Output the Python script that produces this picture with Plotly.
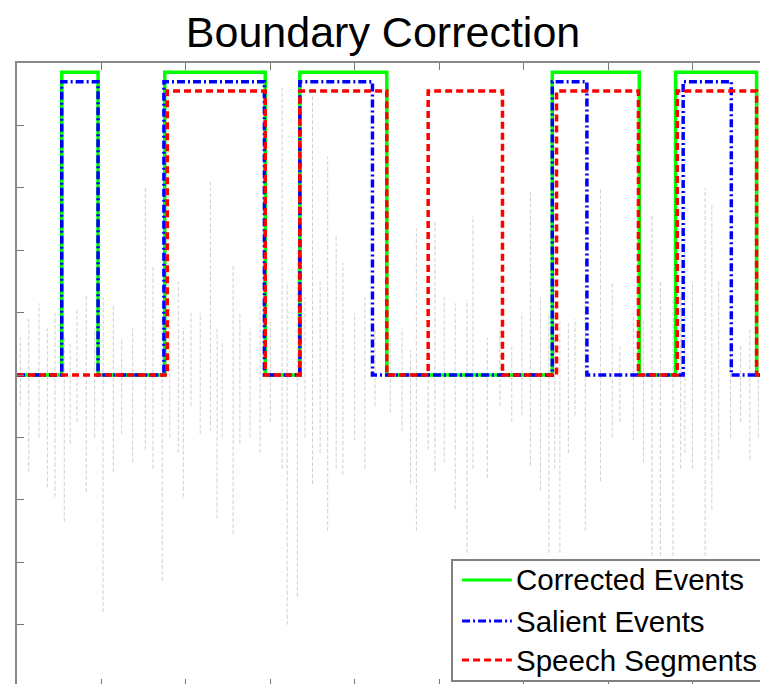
import plotly.graph_objects as go

# ---- speech waveform envelope: time (s), positive peak, negative peak ----
wave_t = [0.04, 0.14, 0.26, 0.36, 0.45, 0.56, 0.63, 0.71, 0.82, 0.92, 1.02, 1.14, 1.24, 1.37,
          1.52, 1.61, 1.72, 1.81, 1.91, 1.97, 2.06, 2.17, 2.29, 2.37, 2.43, 2.56, 2.64, 2.76,
          2.88, 3.00, 3.14, 3.20, 3.32, 3.41, 3.50, 3.59, 3.68, 3.78, 3.86, 4.00, 4.12, 4.24,
          4.42, 4.56, 4.66, 4.73, 4.87, 4.95, 5.06, 5.19, 5.33, 5.40, 5.57, 5.72, 5.86, 5.98,
          6.08, 6.20, 6.30, 6.37, 6.43, 6.53, 6.61, 6.73, 6.91, 7.05, 7.14, 7.30, 7.42, 7.52,
          7.62, 7.77, 7.86, 7.91, 8.00, 8.15, 8.23, 8.31, 8.45, 8.57, 8.68, 8.78]
wave_up = [0.12, 0.18, 0.23, 0.15, 0.20, 0.12, 0.10, 0.21, 0.26, 0.15, 0.25, 0.23, 0.12, 0.15,
           0.60, 0.35, 0.18, 0.22, 0.30, 0.15, 0.20, 0.20, 0.62, 0.15, 0.11, 0.35, 0.20, 0.15,
           0.22, 0.18, 0.92, 0.30, 0.40, 0.25, 0.90, 0.30, 0.70, 0.45, 0.36, 0.20, 0.25, 0.15,
           0.12, 0.15, 0.08, 0.47, 0.20, 0.49, 0.25, 0.23, 0.24, 0.51, 0.12, 0.15, 0.09, 0.20,
           0.59, 0.25, 0.20, 0.12, 0.18, 0.17, 0.18, 0.25, 0.60, 0.30, 0.09, 0.20, 0.18, 0.51,
           0.30, 0.25, 0.26, 0.45, 0.30, 0.60, 0.55, 0.30, 0.10, 0.10, 0.15, 0.10]
wave_down = [-0.10, -0.31, -0.20, -0.36, -0.39, -0.47, -0.22, -0.15, -0.375, -0.20, -0.76, -0.31,
             -0.19, -0.28, -0.24, -0.30, -0.66, -0.20, -0.25, -0.39, -0.10, -0.19, -0.18, -0.46,
             -0.20, -0.51, -0.22, -0.20, -0.25, -0.15, -0.30, -0.80, -0.71, -0.20, -0.35, -0.25,
             -0.50, -0.30, -0.32, -0.21, -0.30, -0.10, -0.12, -0.18, -0.35, -0.50, -0.24, -0.31,
             -0.28, -0.43, -0.57, -0.30, -0.33, -0.10, -0.15, -0.13, -0.29, -0.37, -0.57, -0.30,
             -0.57, -0.25, -0.13, -0.50, -0.34, -0.20, -0.15, -0.21, -0.28, -0.58, -0.58, -0.58,
             -0.30, -0.25, -0.30, -0.58, -0.43, -0.27, -0.20, -0.15, -0.27, -0.20]

# ---- event intervals (start, end) in seconds ----
corrected_on = [0.53, 1.75, 3.35, 6.34, 7.80]
corrected_off = [0.96, 2.94, 4.38, 7.37, 8.76]
salient_on = [0.53, 1.74, 3.35, 6.34, 7.89]
salient_off = [0.96, 2.93, 4.21, 6.75, 8.46]
speech_on = [1.78, 3.35, 4.87, 6.39, 7.82]
speech_off = [2.94, 4.38, 5.75, 7.36, 8.76]

level_corrected = 0.97
level_salient = 0.94
level_speech = 0.91

series_names = ["Corrected Events", "Salient Events", "Speech Segments"]
series_colors = ["#00ff00", "#0000ff", "#ff0000"]
series_dashes = ["solid", "8px,3px,2px,3px", "7px,4px"]

T_END = 8.80
LINE_W = 3.5


def step_trace(ons, offs, level):
    xs, ys = [0.0], [0.0]
    for a, b in zip(ons, offs):
        xs += [a, a, b, b]
        ys += [0.0, level, level, 0.0]
    xs.append(T_END)
    ys.append(0.0)
    return xs, ys


wx, wy = [], []
for t, u, d in zip(wave_t, wave_up, wave_down):
    wx += [t, t, None]
    wy += [d, u, None]

fig = go.Figure()
fig.add_trace(go.Scatter(x=wx, y=wy, mode="lines", showlegend=False, hoverinfo="skip",
                         line=dict(color="#d0d0d0", width=1, dash="4px,2px")))

steps = [step_trace(corrected_on, corrected_off, level_corrected),
         step_trace(salient_on, salient_off, level_salient),
         step_trace(speech_on, speech_off, level_speech)]

for (sx, sy), name, col, dash in zip(steps, series_names, series_colors, series_dashes):
    fig.add_trace(go.Scatter(x=sx, y=sy, mode="lines", name=name, showlegend=False,
                             line=dict(color=col, width=LINE_W, dash=dash)))

ticks_x = [1, 2, 3, 4, 5, 6, 7, 8]
ticks_y = [-0.8, -0.6, -0.4, -0.2, 0, 0.2, 0.4, 0.6, 0.8]

# legend box drawn in paper coordinates (bottom-right corner of the axes)
box_x0, box_x1, box_y0, box_y1 = 0.5855, 1.05, 0.0048, 0.1997
row_y = [0.1675, 0.1014, 0.0386]
sample_x0, sample_x1, text_x = 0.599, 0.666, 0.669

shapes = [dict(type="rect", xref="paper", yref="paper", x0=box_x0, x1=box_x1,
               y0=box_y0, y1=box_y1, fillcolor="white",
               line=dict(color="#808080", width=2), layer="above")]
annotations = []
for name, col, dash, yy in zip(series_names, series_colors, series_dashes, row_y):
    shapes.append(dict(type="line", xref="paper", yref="paper", x0=sample_x0, x1=sample_x1,
                       y0=yy, y1=yy, line=dict(color=col, width=3, dash=dash), layer="above"))
    annotations.append(dict(text=name, xref="paper", yref="paper", x=text_x, y=yy,
                            xanchor="left", yanchor="middle", showarrow=False,
                            font=dict(size=29.5, color="black",
                                      family="Liberation Sans, Arial, sans-serif")))

fig.update_layout(
    width=760, height=684,
    margin=dict(l=17, r=0, t=63, b=0, autoexpand=False),
    paper_bgcolor="white", plot_bgcolor="white",
    font=dict(family="Liberation Sans, Arial, sans-serif", color="black"),
    showlegend=False,
    title=dict(text="Boundary Correction", x=0.504, xanchor="center",
               y=0.953, yanchor="middle", yref="container",
               font=dict(size=43, color="black")),
    xaxis=dict(range=[0, T_END], showgrid=False, zeroline=False, showline=False,
               tickvals=ticks_x, ticks="inside", ticklen=5, tickcolor="#777",
               showticklabels=False),
    xaxis2=dict(range=[0, T_END], overlaying="x", side="top", showgrid=False,
                zeroline=False, showline=True, linecolor="#888", linewidth=2,
                tickvals=ticks_x, ticks="inside", ticklen=7, tickcolor="#777",
                showticklabels=False),
    yaxis=dict(range=[-0.99, 1.0], showgrid=False, zeroline=False, showline=True,
               linecolor="#888", linewidth=2, tickvals=ticks_y, ticks="inside",
               ticklen=7, tickcolor="#777", showticklabels=False),
    shapes=shapes,
    annotations=annotations,
)
# invisible trace to activate the top axis
fig.add_trace(go.Scatter(x=[0], y=[0], xaxis="x2", mode="markers", showlegend=False,
                         marker=dict(opacity=0), hoverinfo="skip"))

fig.write_html("out.html")
